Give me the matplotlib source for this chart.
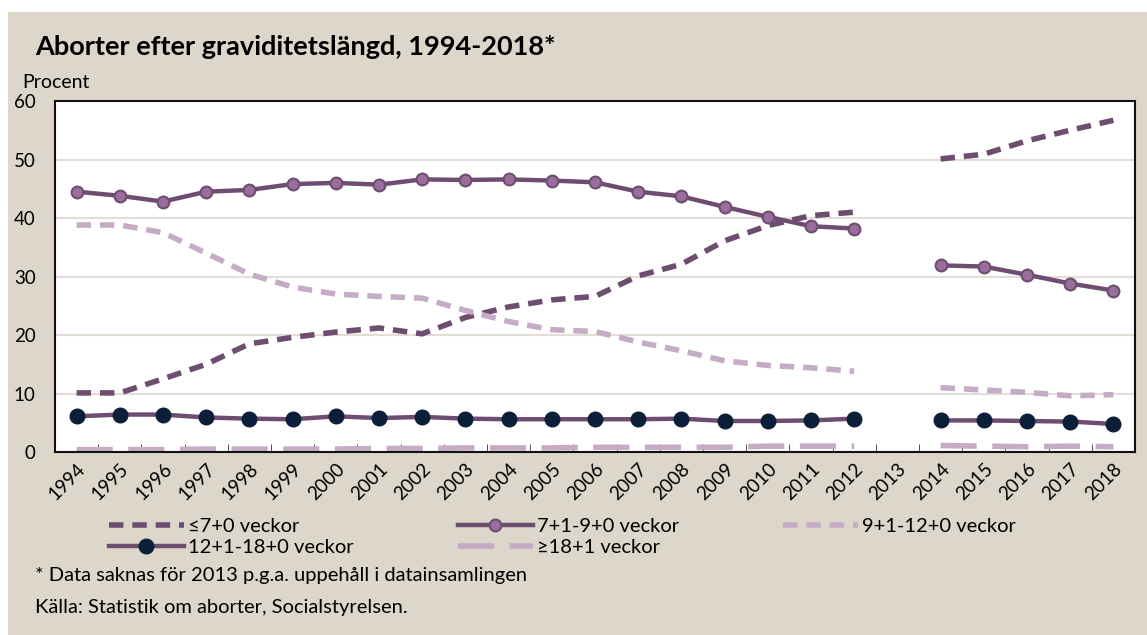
import numpy as np
import matplotlib.pyplot as plt
from matplotlib.patches import Rectangle

plt.rcParams['font.family'] = ['Lato', 'DejaVu Sans']

years = ["1994", "1995", "1996", "1997", "1998", "1999", "2000", "2001", "2002",
         "2003", "2004", "2005", "2006", "2007", "2008", "2009", "2010", "2011",
         "2012", "2013", "2014", "2015", "2016", "2017", "2018"]
nan = np.nan

# andel (procent) per graviditetslängd, 2013 saknas
v_7 = [10.1, 10.1, 12.5, 15.0, 18.5, 19.6, 20.5, 21.2, 20.2, 23.0, 24.8, 26.0, 26.6,
       30.1, 32.1, 36.1, 38.7, 40.4, 41.0, nan, 50.1, 50.9, 53.2, 55.0, 56.7]
v_7_9 = [44.5, 43.8, 42.8, 44.5, 44.8, 45.8, 46.0, 45.7, 46.6, 46.5, 46.6, 46.4, 46.1,
         44.5, 43.7, 41.9, 40.2, 38.6, 38.2, nan, 31.9, 31.7, 30.3, 28.8, 27.6]
v_9_12 = [38.8, 38.8, 37.5, 34.0, 30.4, 28.2, 27.0, 26.6, 26.3, 24.2, 22.3, 20.9, 20.6,
          18.8, 17.3, 15.6, 14.8, 14.4, 13.8, nan, 11.0, 10.6, 10.2, 9.6, 9.8]
v_12_18 = [6.1, 6.4, 6.4, 5.9, 5.7, 5.6, 6.1, 5.8, 6.0, 5.7, 5.6, 5.6, 5.6,
           5.6, 5.7, 5.3, 5.3, 5.4, 5.7, nan, 5.4, 5.4, 5.3, 5.2, 4.8]
v_18 = [0.4, 0.4, 0.4, 0.5, 0.5, 0.5, 0.5, 0.6, 0.6, 0.7, 0.7, 0.7, 0.8,
        0.8, 0.8, 0.8, 1.0, 1.0, 1.0, nan, 1.1, 1.0, 0.9, 1.0, 0.9]

bg = "#dcd6cb"
dark = "#6e4e70"
light = "#c5abc6"
mface = "#9a6d9c"
navy = "#0b1f38"

fig = plt.figure(figsize=(11.47, 6.35), dpi=100)
fig.patch.set_facecolor("white")
fig.patches.append(Rectangle((8 / 1147, 0), 1, 1 - 12 / 635, transform=fig.transFigure,
                             facecolor=bg, edgecolor="none", zorder=-10))

ax = fig.add_axes([55 / 1147, 1 - 452 / 635, 1080 / 1147, 351 / 635])
x = np.arange(len(years))

ax.plot(x, v_7, color=dark, lw=4, dashes=(2.6, 1.6), label="≤7+0 veckor")
ax.plot(x, v_7_9, color=dark, lw=3.2, marker="o", ms=8.5, mfc=mface, mec=dark,
        mew=1.5, label="7+1-9+0 veckor")
ax.plot(x, v_9_12, color=light, lw=4, dashes=(2.6, 1.6), label="9+1-12+0 veckor")
ax.plot(x, v_12_18, color=dark, lw=3.2, marker="o", ms=10.5, mfc=navy, mec=navy,
        label="12+1-18+0 veckor")
ax.plot(x, v_18, color=light, lw=4, dashes=(6.5, 2.8), label="≥18+1 veckor")

ax.set_xlim(-0.5, len(years) - 0.5)
ax.set_ylim(0, 60)
ax.set_yticks(range(0, 61, 10))
ax.yaxis.grid(True, color="#e2ded6", lw=1.5)
ax.set_axisbelow(True)
ax.tick_params(axis="y", length=0, labelsize=13.5, pad=14)
ax.set_xticks(x)
ax.set_xticklabels(years, rotation=45, ha="right", rotation_mode="anchor", fontsize=13.5)
ax.tick_params(axis="x", length=0, pad=6)
ax.set_xticks(np.arange(0.5, len(years) - 1, 1), minor=True)
ax.tick_params(axis="x", which="minor", direction="in", length=6, color="#333333")
for s in ax.spines.values():
    s.set_linewidth(1.5)
    s.set_color("#111111")

fig.text(35 / 1147, 1 - 47 / 635, "Aborter efter graviditetslängd, 1994-2018*",
         fontsize=19.5, fontweight="bold", va="center")
fig.text(22 / 1147, 1 - 82 / 635, "Procent", fontsize=14, va="center")

handles, labels = ax.get_legend_handles_labels()
order = [0, 3, 1, 4, 2]
leg = fig.legend([handles[i] for i in order], [labels[i] for i in order],
                 loc="upper left", bbox_to_anchor=(95 / 1147, 1 - 504 / 635), ncol=3,
                 frameon=False, fontsize=14.5, handlelength=3.7, handletextpad=0.2,
                 columnspacing=5.2, labelspacing=0.2, borderpad=0.2)

fig.text(35 / 1147, 1 - 576 / 635,
         "* Data saknas för 2013 p.g.a. uppehåll i datainsamlingen", fontsize=14.5, va="center")
fig.text(35 / 1147, 1 - 607 / 635,
         "Källa: Statistik om aborter, Socialstyrelsen.", fontsize=14.5, va="center")

fig.savefig("out.png", dpi=100, facecolor=fig.get_facecolor())
